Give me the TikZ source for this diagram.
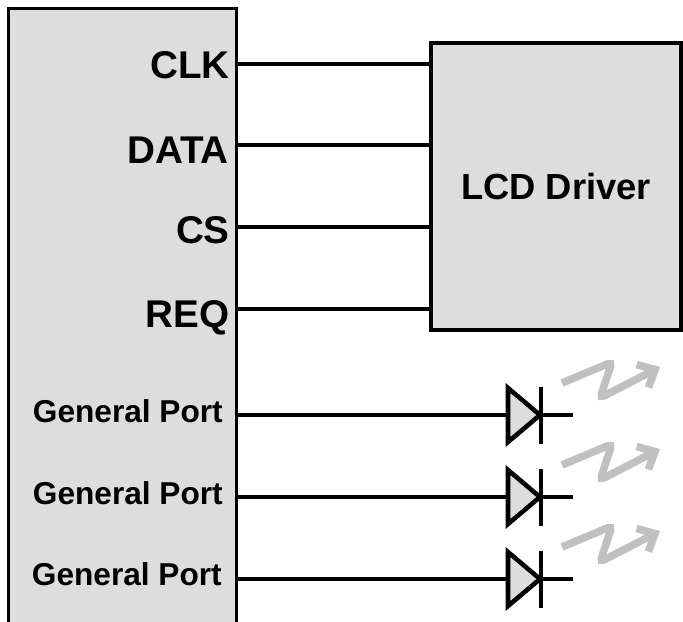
\documentclass[tikz,border=0pt]{standalone}
\usepackage{fontspec}
\setmainfont{Liberation Sans}
\usetikzlibrary{arrows.meta}
\definecolor{boxgray}{RGB}{221,221,221}
\definecolor{glowgray}{RGB}{192,192,192}

\begin{document}
\begin{tikzpicture}[
    x=0.03cm, y=-0.03cm,
    block/.style={
      draw,line width=2.6pt,fill=boxgray,inner sep=0pt,outer sep=0pt
    },
    wire/.style={line width=3.9pt},
    signal/.style={anchor=base east,inner sep=0pt,
      font=\fontsize{33}{33}\selectfont\bfseries},
    port/.style={anchor=base east,inner sep=0pt,
      font=\fontsize{27}{27}\selectfont\bfseries},
    diode/.style={line width=3.9pt,fill=boxgray},
    glow/.style={
      draw=glowgray,line width=6.5pt,rounded corners=4pt,
      -{Straight Barb[length=12pt,width=22pt]}
    }
  ]
    \clip (0,0) rectangle (683,621);

    \node[block,anchor=north west,minimum width=6.84cm,minimum height=18.95cm] (MCU) at (8.5,8.5) {};
    \node[block,minimum width=7.5cm,minimum height=8.61cm,
      font=\fontsize{31}{31}\selectfont\bfseries] (LCD) at (556,186.5) {LCD Driver};

    \node[signal] (CLK) at (230,79) {CLK};
    \node[signal] (DATA) at (229,163) {DATA};
    \node[signal] (CS) at (230,243) {CS};
    \node[signal] (REQ) at (230,327) {REQ};

    \coordinate (ClkPin) at (236.5,64);
    \coordinate (DataPin) at (236.5,145);
    \coordinate (CsPin) at (236.5,227);
    \coordinate (ReqPin) at (236.5,309);

    \draw[wire] (ClkPin) -- (ClkPin -| LCD.west);
    \draw[wire] (DataPin) -- (DataPin -| LCD.west);
    \draw[wire] (CsPin) -- (CsPin -| LCD.west);
    \draw[wire] (ReqPin) -- (ReqPin -| LCD.west);

    \node[port] (PortA) at (223,422) {General Port};
    \node[port] (PortB) at (223,504) {General Port};
    \node[port] (PortC) at (222,585) {General Port};

    \coordinate (PinA) at (236.5,415);
    \coordinate (PinB) at (236.5,497);
    \coordinate (PinC) at (236.5,579);
    \coordinate (LedA) at (508,415);
    \coordinate (LedB) at (508,497);
    \coordinate (LedC) at (508,579);

    \draw[wire] (PinA) -- (LedA);
    \draw[diode] ([shift={(0,-27)}]LedA) -- ++(32,27) -- ++(-32,27) -- cycle;
    \draw[wire] ([shift={(33,-28)}]LedA) -- ++(0,57);
    \draw[wire] ([shift={(33,0)}]LedA) -- ++(32,0);
    \draw[glow] ([shift={(54,-32)}]LedA) -- ++(50,-21) -- ++(-12,36) -- ++(60,-31);

    \draw[wire] (PinB) -- (LedB);
    \draw[diode] ([shift={(0,-27)}]LedB) -- ++(32,27) -- ++(-32,27) -- cycle;
    \draw[wire] ([shift={(33,-28)}]LedB) -- ++(0,57);
    \draw[wire] ([shift={(33,0)}]LedB) -- ++(32,0);
    \draw[glow] ([shift={(54,-32)}]LedB) -- ++(50,-21) -- ++(-12,36) -- ++(60,-31);

    \draw[wire] (PinC) -- (LedC);
    \draw[diode] ([shift={(0,-27)}]LedC) -- ++(32,27) -- ++(-32,27) -- cycle;
    \draw[wire] ([shift={(33,-28)}]LedC) -- ++(0,57);
    \draw[wire] ([shift={(33,0)}]LedC) -- ++(32,0);
    \draw[glow] ([shift={(54,-32)}]LedC) -- ++(50,-21) -- ++(-12,36) -- ++(60,-31);
\end{tikzpicture}
\end{document}
